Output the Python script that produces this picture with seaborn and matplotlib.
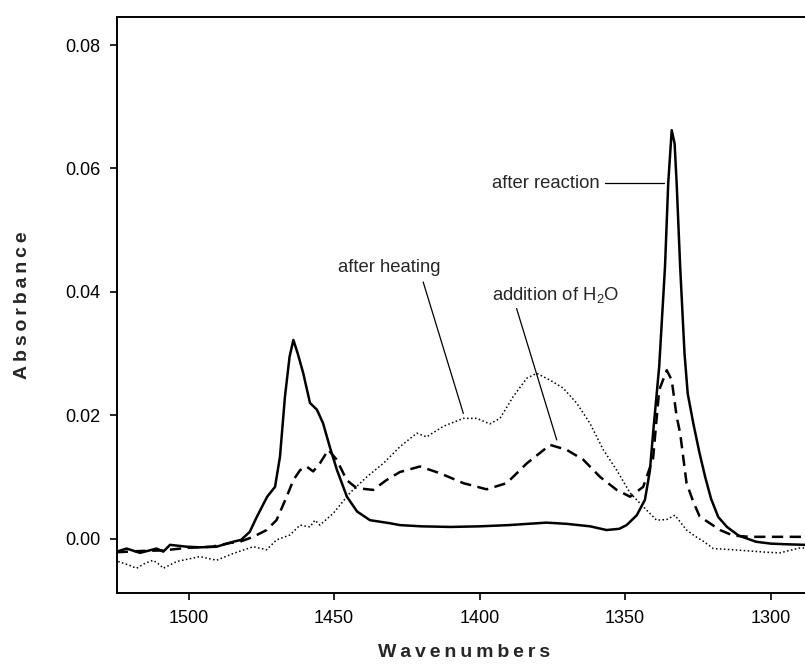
import numpy as np
import pandas as pd
import matplotlib
matplotlib.use("Agg")
import matplotlib.pyplot as plt
import seaborn as sns

# ---- data ----
solid_x = [1524.7, 1521.3, 1516.7, 1511.0, 1508.7, 1506.4, 1500.7, 1496.1, 1490.4, 1484.7,
           1482.0, 1479.0, 1476.5, 1473.0, 1470.3, 1468.6, 1466.9, 1465.3, 1464.0, 1462.5,
           1460.6, 1458.3, 1455.9, 1453.8, 1451.5, 1449.0, 1445.6, 1442.1, 1437.7, 1430.8,
           1427.4, 1420.0, 1410.0, 1400.0, 1390.0, 1377.0, 1370.0, 1362.0, 1356.4, 1352.0,
           1349.5, 1346.0, 1343.2, 1341.5, 1340.4, 1338.3, 1336.3, 1335.2, 1334.0, 1333.0,
           1332.3, 1331.1, 1329.6, 1328.5, 1326.5, 1324.5, 1322.5, 1320.5, 1318.0, 1315.0,
           1311.0, 1305.0, 1300.0, 1295.0, 1288.2]
solid_y = [-0.0021, -0.0016, -0.0023, -0.0016, -0.0021, -0.0010, -0.0013, -0.0014, -0.0013, -0.0005,
           -0.0002, 0.0011, 0.0036, 0.0068, 0.0084, 0.0133, 0.0230, 0.0295, 0.0322, 0.0300,
           0.0268, 0.0220, 0.0209, 0.0187, 0.0149, 0.0111, 0.0068, 0.0044, 0.0030, 0.0025,
           0.0022, 0.0020, 0.0019, 0.0020, 0.0022, 0.0026, 0.0024, 0.0020, 0.0014, 0.0016,
           0.0022, 0.0038, 0.0063, 0.0110, 0.0171, 0.0279, 0.0441, 0.0576, 0.0662, 0.0640,
           0.0576, 0.0441, 0.0300, 0.0235, 0.0185, 0.0140, 0.0100, 0.0065, 0.0035, 0.0019,
           0.0005, -0.0005, -0.0008, -0.0009, -0.0010]

dash_x = [1524.7, 1516.7, 1508.7, 1500.7, 1492.0, 1485.8, 1482.4, 1477.8, 1473.2, 1469.8,
          1466.3, 1464.0, 1461.7, 1459.5, 1457.2, 1454.9, 1452.0, 1449.1, 1445.7, 1442.3,
          1436.6, 1432.0, 1427.4, 1420.5, 1413.6, 1405.6, 1397.6, 1390.7, 1383.8, 1375.8,
          1370.1, 1364.4, 1358.6, 1352.9, 1348.3, 1343.8, 1340.4, 1338.3, 1335.7, 1334.0,
          1332.3, 1331.1, 1328.9, 1326.6, 1324.4, 1317.4, 1312.9, 1307.1, 1301.4, 1295.0,
          1288.2]
dash_y = [-0.0022, -0.0020, -0.0019, -0.0015, -0.0013, -0.0007, -0.0005, 0.0003, 0.0014, 0.0030,
          0.0068, 0.0095, 0.0111, 0.0117, 0.0109, 0.0122, 0.0144, 0.0128, 0.0095, 0.0082,
          0.0079, 0.0095, 0.0108, 0.0117, 0.0106, 0.0090, 0.0080, 0.0090, 0.0122, 0.0152,
          0.0144, 0.0128, 0.0100, 0.0079, 0.0068, 0.0084, 0.0130, 0.0241, 0.0273, 0.0257,
          0.0198, 0.0171, 0.0090, 0.0060, 0.0036, 0.0014, 0.0005, 0.0003, 0.0003, 0.0003,
          0.0003]

dot_x = [1524.2, 1521.0, 1517.9, 1515.0, 1512.2, 1510.0, 1508.7, 1504.1, 1496.1, 1490.4,
         1484.7, 1477.8, 1473.2, 1469.8, 1465.2, 1461.7, 1458.3, 1456.6, 1454.9, 1450.3,
         1444.6, 1438.8, 1433.1, 1427.4, 1421.6, 1418.2, 1412.5, 1405.6, 1401.0, 1396.5,
         1393.0, 1388.5, 1383.8, 1380.4, 1375.8, 1371.3, 1366.7, 1362.1, 1357.5, 1352.9,
         1348.3, 1343.8, 1339.2, 1335.8, 1332.9, 1328.9, 1326.0, 1323.2, 1319.7, 1312.9,
         1307.0, 1301.4, 1296.8, 1290.0, 1288.2]
dot_y = [-0.0037, -0.0042, -0.0048, -0.0040, -0.0035, -0.0042, -0.0048, -0.0037, -0.0029, -0.0035,
         -0.0024, -0.0013, -0.0018, -0.0002, 0.0006, 0.0022, 0.0019, 0.0030, 0.0022, 0.0041,
         0.0074, 0.0100, 0.0122, 0.0149, 0.0171, 0.0165, 0.0182, 0.0195, 0.0195, 0.0186,
         0.0195, 0.0230, 0.0260, 0.0268, 0.0257, 0.0244, 0.0220, 0.0187, 0.0144, 0.0111,
         0.0074, 0.0052, 0.0030, 0.0031, 0.0038, 0.0014, 0.0004, -0.0004, -0.0016, -0.0018,
         -0.0020, -0.0022, -0.0023, -0.0015, -0.0015]

x_ticks = [1500, 1450, 1400, 1350, 1300]
y_ticks = [0.00, 0.02, 0.04, 0.06, 0.08]
y_tick_labels = ["0.00", "0.02", "0.04", "0.06", "0.08"]

label_reaction = "after reaction"
label_heating = "after heating"
label_water = "addition of H$_2$O"

# ---- style ----
sns.set_style("ticks")
plt.rcParams['font.family'] = ['Liberation Sans', 'DejaVu Sans']
plt.rcParams['mathtext.fontset'] = 'custom'
plt.rcParams['mathtext.rm'] = 'Liberation Sans'
plt.rcParams['mathtext.it'] = 'Liberation Sans'

fig = plt.figure(figsize=(8.05, 6.64), dpi=100)
ax = fig.add_axes([0.145, 0.1065, 0.855, 0.8675])

df_s = pd.DataFrame({"x": solid_x, "y": solid_y})
df_d = pd.DataFrame({"x": dash_x, "y": dash_y})
df_p = pd.DataFrame({"x": dot_x, "y": dot_y})

sns.lineplot(data=df_p, x="x", y="y", sort=False, ax=ax, color="black",
             linewidth=1.1, linestyle=(0, (1, 1.6)))
sns.lineplot(data=df_d, x="x", y="y", sort=False, ax=ax, color="black",
             linewidth=1.8, linestyle=(0, (4.5, 2.6)))
sns.lineplot(data=df_s, x="x", y="y", sort=False, ax=ax, color="black",
             linewidth=1.8)

ax.set_xlim(1524.7, 1288.2)
ax.set_ylim(-0.00885, 0.0845)
ax.set_xticks(x_ticks)
ax.set_xticklabels([str(t) for t in x_ticks])
ax.set_yticks(y_ticks)
ax.set_yticklabels(y_tick_labels)
ax.tick_params(axis='both', direction='out', length=5, width=1.2, labelsize=13, pad=7, colors='black')

for side in ['left', 'bottom', 'top']:
    ax.spines[side].set_visible(True)
    ax.spines[side].set_linewidth(1.4)
    ax.spines[side].set_color('black')
ax.spines['right'].set_visible(False)

ts = "\u2009"
ax.set_xlabel(ts.join("Wavenumbers"), fontsize=14, fontweight='bold')
ax.set_ylabel(ts.join("Absorbance"), fontsize=14, fontweight='bold')
ax.xaxis.set_label_coords(0.505, -0.088)
ax.yaxis.set_label_coords(-0.125, 0.50)

# annotations
ax.text(1358.6, 0.0576, label_reaction, fontsize=13.3, ha='right', va='center')
ax.plot([1356.9, 1336.6], [0.0576, 0.0576], color='black', linewidth=0.9)

ax.text(1431.2, 0.0439, label_heating, fontsize=13.3, ha='center', va='center')
ax.plot([1419.4, 1405.6], [0.0416, 0.0203], color='black', linewidth=0.9)

ax.text(1373.8, 0.0395, label_water, fontsize=13.3, ha='center', va='center')
ax.plot([1387.3, 1373.5], [0.0373, 0.0160], color='black', linewidth=0.9)

fig.savefig("out.png", dpi=100)
